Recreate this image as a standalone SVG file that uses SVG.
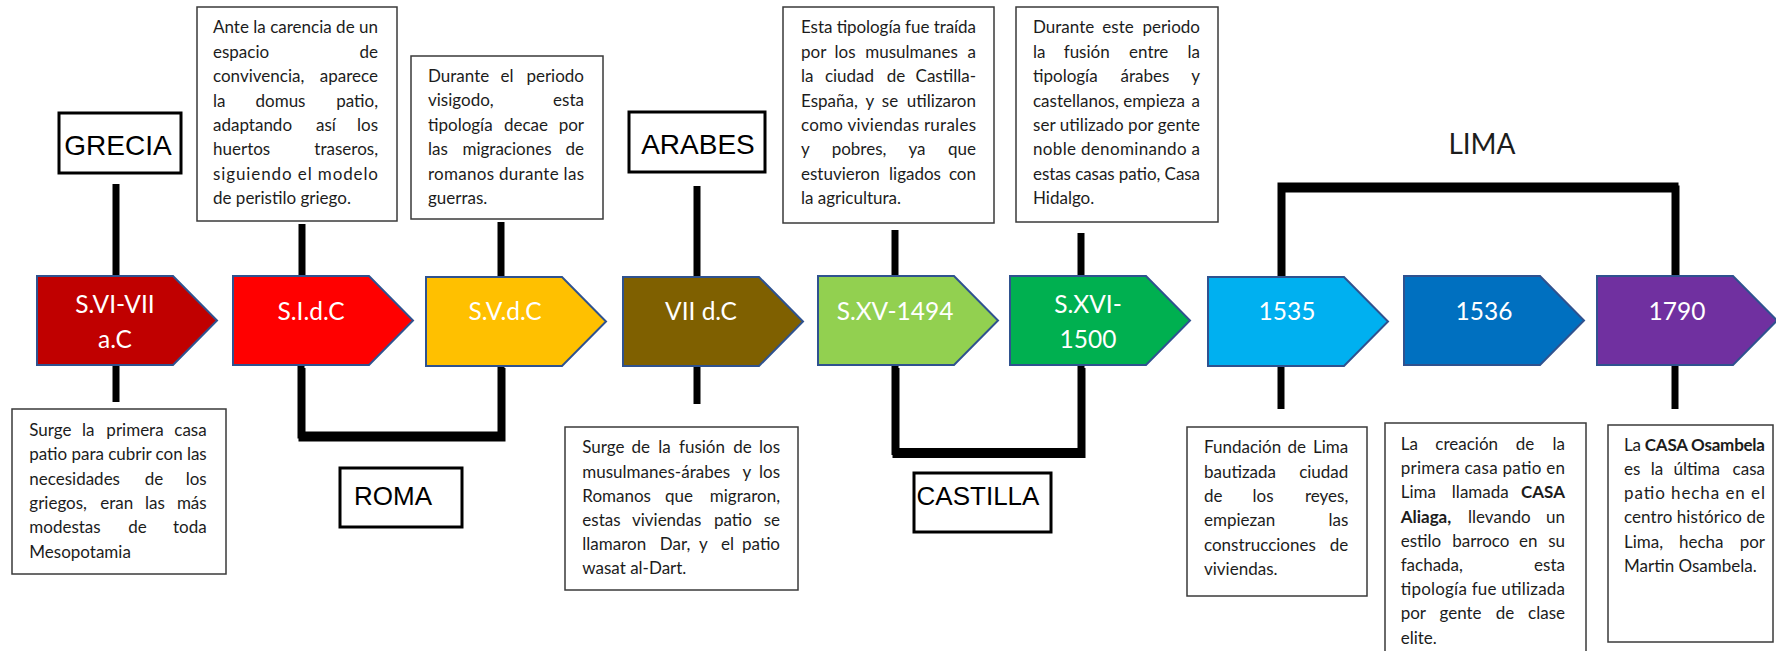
<svg xmlns="http://www.w3.org/2000/svg" width="1776" height="651" viewBox="0 0 1776 651">
<style>
.bg{fill:#fff}
.box{fill:#fff;stroke:#3a3a3a;stroke-width:1.5}
.lbox{fill:#fff;stroke:#000;stroke-width:3}
.t{font-family:Lato,"Open Sans",sans-serif;font-size:17px;fill:#1c1c1c}
.b{font-weight:bold}
.s{text-anchor:start}
.m{text-anchor:middle}
.e{text-anchor:end}
.lt{font-family:"Liberation Sans",Arial,sans-serif;fill:#000;text-anchor:middle}
.arr{stroke:#2F528F;stroke-width:2}
.at{font-family:Lato,"Open Sans",sans-serif;font-size:24.5px;fill:#fff;text-anchor:middle}
.c{stroke:#000;stroke-width:7;fill:none}
</style>
<rect class="bg" x="0" y="0" width="1776" height="651"/>

<g id="connectors">
<line class="c" x1="116" y1="184" x2="116" y2="276"/>
<line class="c" x1="302" y1="224" x2="302" y2="276"/>
<line class="c" x1="501" y1="222" x2="501" y2="276"/>
<line class="c" x1="697" y1="186" x2="697" y2="276"/>
<line class="c" x1="895" y1="230" x2="895" y2="276"/>
<line class="c" x1="1081" y1="233" x2="1081" y2="276"/>
<line class="c" x1="116" y1="365" x2="116" y2="402"/>
<line class="c" x1="697" y1="366" x2="697" y2="404"/>
<line class="c" x1="1281" y1="366" x2="1281" y2="409"/>
<line class="c" x1="1675" y1="366" x2="1675" y2="409"/>
<path class="c" d="M302,368 V438 H502 V368"/>
<path class="c" d="M301,365 V435 H501 V365"/>
<path class="c" d="M896,368 V454.5 H1082 V368"/>
<path class="c" d="M895,365 V451.5 H1081 V365"/>
<path class="c" d="M1282,276 V189 H1676 V276"/>
<path class="c" d="M1281,276 V186 H1675 V276"/>
</g>

<g id="grecia">
<rect class="lbox" x="59" y="113" width="122" height="60"/>
<text class="lt" x="118" y="155" font-size="28">GRECIA</text>
</g>
<g id="arabes">
<rect class="lbox" x="629" y="112" width="136" height="60"/>
<text class="lt" x="698" y="154" font-size="28">ARABES</text>
</g>
<g id="roma">
<rect class="lbox" x="340" y="468" width="122" height="59"/>
<text class="lt" x="393" y="505" font-size="26">ROMA</text>
</g>
<g id="castilla">
<rect class="lbox" x="914" y="473" width="137" height="59"/>
<text class="lt" x="978" y="505" font-size="26">CASTILLA</text>
</g>
<g id="lima">
<text x="1482" y="154" font-family="Lato,'Open Sans',sans-serif" font-size="28" fill="#1c1c1c" text-anchor="middle">LIMA</text>
</g>

<g id="a1"><polygon class="arr" fill="#C00000" points="37,276 173,276 217,320.5 173,365 37,365"/>
<text class="at" x="115" y="312.5">S.VI-VII</text><text class="at" x="115" y="348">a.C</text></g>
<g id="a2"><polygon class="arr" fill="#FF0000" points="233,276 369,276 413,320.5 369,365 233,365"/>
<text class="at" x="311" y="320">S.I.d.C</text></g>
<g id="a3"><polygon class="arr" fill="#FFC000" points="426,277 562,277 606,321.5 562,366 426,366"/>
<text class="at" x="505" y="320">S.V.d.C</text></g>
<g id="a4"><polygon class="arr" fill="#7F6000" points="623,277 759,277 803,321.5 759,366 623,366"/>
<text class="at" x="701" y="320">VII d.C</text></g>
<g id="a5"><polygon class="arr" fill="#92D050" points="818,276 954,276 998,320.5 954,365 818,365"/>
<text class="at" x="895" y="320">S.XV-1494</text></g>
<g id="a6"><polygon class="arr" fill="#00B050" points="1010,276 1146,276 1190,320.5 1146,365 1010,365"/>
<text class="at" x="1088" y="312.5">S.XVI-</text><text class="at" x="1088" y="348">1500</text></g>
<g id="a7"><polygon class="arr" fill="#00B0F0" points="1208,277 1344,277 1388,321.5 1344,366 1208,366"/>
<text class="at" x="1287" y="320">1535</text></g>
<g id="a8"><polygon class="arr" fill="#0070C0" points="1404,276 1540,276 1584,320.5 1540,365 1404,365"/>
<text class="at" x="1484" y="320">1536</text></g>
<g id="a9"><polygon class="arr" fill="#7030A0" points="1597,276 1733,276 1777,320.5 1733,365 1597,365"/>
<text class="at" x="1677" y="320">1790</text></g>

<g id="box-ante">
<rect class="box" x="197" y="7" width="200" height="214"/>
<text class="t" x="213" y="33.3" textLength="165" lengthAdjust="spacing">Ante la carencia de un</text>
<text class="t" y="57.7"><tspan class="s" x="213">espacio</tspan><tspan class="e" x="378">de</tspan></text>
<text class="t" y="82.1"><tspan class="s" x="213">convivencia,</tspan><tspan class="e" x="378">aparece</tspan></text>
<text class="t" y="106.5"><tspan class="s" x="213">la</tspan><tspan class="m" x="280.5">domus</tspan><tspan class="e" x="378">patio,</tspan></text>
<text class="t" y="130.9"><tspan class="s" x="213">adaptando</tspan><tspan class="m" x="326">así</tspan><tspan class="e" x="378">los</tspan></text>
<text class="t" y="155.3"><tspan class="s" x="213">huertos</tspan><tspan class="e" x="378">traseros,</tspan></text>
<text class="t" x="213" y="179.7" textLength="165" lengthAdjust="spacing">siguiendo el modelo</text>
<text class="t" x="213" y="204.1">de peristilo griego.</text>
</g>

<g id="box-visigodo">
<rect class="box" x="411" y="56" width="192" height="163"/>
<text class="t" y="82"><tspan class="s" x="428">Durante</tspan><tspan class="m" x="507">el</tspan><tspan class="e" x="584">periodo</tspan></text>
<text class="t" y="106.4"><tspan class="s" x="428">visigodo,</tspan><tspan class="e" x="584">esta</tspan></text>
<text class="t" y="130.8"><tspan class="s" x="428">tipología</tspan><tspan class="m" x="526">decae</tspan><tspan class="e" x="584">por</tspan></text>
<text class="t" y="155.2"><tspan class="s" x="428">las</tspan><tspan class="m" x="507">migraciones</tspan><tspan class="e" x="584">de</tspan></text>
<text class="t" x="428" y="179.6" textLength="156" lengthAdjust="spacing">romanos durante las</text>
<text class="t" x="428" y="204">guerras.</text>
</g>

<g id="box-esta">
<rect class="box" x="783" y="7" width="211" height="216"/>
<text class="t" x="801" y="33.3" textLength="175" lengthAdjust="spacing">Esta tipología fue traída</text>
<text class="t" y="57.7"><tspan class="s" x="801">por</tspan><tspan class="m" x="845">los</tspan><tspan class="m" x="911.5">musulmanes</tspan><tspan class="e" x="976">a</tspan></text>
<text class="t" y="82.1"><tspan class="s" x="801">la</tspan><tspan class="m" x="849.5">ciudad</tspan><tspan class="m" x="896">de</tspan><tspan class="e" x="976">Castilla-</tspan></text>
<text class="t" y="106.5"><tspan class="s" x="801">España,</tspan><tspan class="m" x="870">y</tspan><tspan class="m" x="890">se</tspan><tspan class="e" x="976">utilizaron</tspan></text>
<text class="t" x="801" y="130.9" textLength="175" lengthAdjust="spacing">como viviendas rurales</text>
<text class="t" y="155.3"><tspan class="s" x="801">y</tspan><tspan class="m" x="859">pobres,</tspan><tspan class="m" x="917">ya</tspan><tspan class="e" x="976">que</tspan></text>
<text class="t" y="179.7"><tspan class="s" x="801">estuvieron</tspan><tspan class="m" x="915">ligados</tspan><tspan class="e" x="976">con</tspan></text>
<text class="t" x="801" y="204.1">la agricultura.</text>
</g>

<g id="box-durante">
<rect class="box" x="1016" y="7" width="202" height="215"/>
<text class="t" y="33.3"><tspan class="s" x="1033">Durante</tspan><tspan class="m" x="1118">este</tspan><tspan class="e" x="1200">periodo</tspan></text>
<text class="t" y="57.7"><tspan class="s" x="1033">la</tspan><tspan class="m" x="1086.7">fusión</tspan><tspan class="m" x="1148.7">entre</tspan><tspan class="e" x="1200">la</tspan></text>
<text class="t" y="82.1"><tspan class="s" x="1033">tipología</tspan><tspan class="m" x="1145">árabes</tspan><tspan class="e" x="1200">y</tspan></text>
<text class="t" y="106.5"><tspan class="s" x="1033">castellanos,</tspan><tspan class="m" x="1154">empieza</tspan><tspan class="e" x="1200">a</tspan></text>
<text class="t" x="1033" y="130.9" textLength="167" lengthAdjust="spacing">ser utilizado por gente</text>
<text class="t" x="1033" y="155.3" textLength="167" lengthAdjust="spacing">noble denominando a</text>
<text class="t" x="1033" y="179.7" textLength="167" lengthAdjust="spacing">estas casas patio, Casa</text>
<text class="t" x="1033" y="204.1">Hidalgo.</text>
</g>

<g id="box-surge">
<rect class="box" x="12" y="409" width="214" height="165"/>
<text class="t" y="436"><tspan class="s" x="29.3">Surge</tspan><tspan class="m" x="88.3">la</tspan><tspan class="m" x="135">primera</tspan><tspan class="e" x="206.7">casa</tspan></text>
<text class="t" x="29.3" y="460.3" textLength="177.4" lengthAdjust="spacing">patio para cubrir con las</text>
<text class="t" y="484.6"><tspan class="s" x="29.3">necesidades</tspan><tspan class="m" x="154">de</tspan><tspan class="e" x="206.7">los</tspan></text>
<text class="t" y="508.9"><tspan class="s" x="29.3">griegos,</tspan><tspan class="m" x="116.7">eran</tspan><tspan class="m" x="155">las</tspan><tspan class="e" x="206.7">más</tspan></text>
<text class="t" y="533.2"><tspan class="s" x="29.3">modestas</tspan><tspan class="m" x="137.5">de</tspan><tspan class="e" x="206.7">toda</tspan></text>
<text class="t" x="29.3" y="557.5">Mesopotamia</text>
</g>

<g id="box-fusion">
<rect class="box" x="565" y="427" width="233" height="163"/>
<text class="t" y="453.3"><tspan class="s" x="582.3">Surge</tspan><tspan class="m" x="640.8">de</tspan><tspan class="m" x="664.5">la</tspan><tspan class="m" x="702">fusión</tspan><tspan class="m" x="742.5">de</tspan><tspan class="e" x="780">los</tspan></text>
<text class="t" y="477.5"><tspan class="s" x="582.3">musulmanes-árabes</tspan><tspan class="m" x="747">y</tspan><tspan class="e" x="780">los</tspan></text>
<text class="t" y="501.7"><tspan class="s" x="582.3">Romanos</tspan><tspan class="m" x="679">que</tspan><tspan class="e" x="780">migraron,</tspan></text>
<text class="t" y="525.9"><tspan class="s" x="582.3">estas</tspan><tspan class="m" x="666.7">viviendas</tspan><tspan class="m" x="733">patio</tspan><tspan class="e" x="780">se</tspan></text>
<text class="t" y="550.1"><tspan class="s" x="582.3">llamaron</tspan><tspan class="m" x="675">Dar,</tspan><tspan class="m" x="703.5">y</tspan><tspan class="m" x="727.5">el</tspan><tspan class="e" x="780">patio</tspan></text>
<text class="t" x="582.3" y="574.3">wasat al-Dart.</text>
</g>

<g id="box-fundacion">
<rect class="box" x="1187" y="427" width="180" height="169"/>
<text class="t" y="453.3"><tspan class="s" x="1204">Fundación</tspan><tspan class="m" x="1296.7">de</tspan><tspan class="e" x="1348.3">Lima</tspan></text>
<text class="t" y="477.7"><tspan class="s" x="1204">bautizada</tspan><tspan class="e" x="1348.3">ciudad</tspan></text>
<text class="t" y="502"><tspan class="s" x="1204">de</tspan><tspan class="m" x="1263">los</tspan><tspan class="e" x="1348.3">reyes,</tspan></text>
<text class="t" y="526.3"><tspan class="s" x="1204">empiezan</tspan><tspan class="e" x="1348.3">las</tspan></text>
<text class="t" y="550.6"><tspan class="s" x="1204">construcciones</tspan><tspan class="e" x="1348.3">de</tspan></text>
<text class="t" x="1204" y="574.6">viviendas.</text>
</g>

<g id="box-creacion">
<rect class="box" x="1385" y="423" width="201" height="240"/>
<text class="t" y="450"><tspan class="s" x="1400.7">La</tspan><tspan class="m" x="1466.7">creación</tspan><tspan class="m" x="1525">de</tspan><tspan class="e" x="1565">la</tspan></text>
<text class="t" x="1400.7" y="474.2" textLength="164.3" lengthAdjust="spacing">primera casa patio en</text>
<text class="t" y="498.4"><tspan class="s" x="1400.7">Lima</tspan><tspan class="m" x="1480.3">llamada</tspan><tspan class="e b" x="1565">CASA</tspan></text>
<text class="t" y="522.6"><tspan class="s b" x="1400.7">Aliaga,</tspan><tspan class="m" x="1499.3">llevando</tspan><tspan class="e" x="1565">un</tspan></text>
<text class="t" y="546.8"><tspan class="s" x="1400.7">estilo</tspan><tspan class="m" x="1480.8">barroco</tspan><tspan class="m" x="1528.3">en</tspan><tspan class="e" x="1565">su</tspan></text>
<text class="t" y="571"><tspan class="s" x="1400.7">fachada,</tspan><tspan class="e" x="1565">esta</tspan></text>
<text class="t" x="1400.7" y="595.2" textLength="164.3" lengthAdjust="spacing">tipología fue utilizada</text>
<text class="t" y="619.4"><tspan class="s" x="1400.7">por</tspan><tspan class="m" x="1460.5">gente</tspan><tspan class="m" x="1505">de</tspan><tspan class="e" x="1565">clase</tspan></text>
<text class="t" x="1400.7" y="643.6">elite.</text>
</g>

<g id="box-osambela">
<rect class="box" x="1608" y="425" width="165" height="217"/>
<text class="t" x="1624" y="450.7" textLength="141" lengthAdjust="spacing">La <tspan class="b">CASA Osambela</tspan></text>
<text class="t" y="475"><tspan class="s" x="1624">es</tspan><tspan class="m" x="1657">la</tspan><tspan class="m" x="1696.7">última</tspan><tspan class="e" x="1765">casa</tspan></text>
<text class="t" x="1624" y="499.2" textLength="141" lengthAdjust="spacing">patio hecha en el</text>
<text class="t" x="1624" y="523.4" textLength="141" lengthAdjust="spacing">centro histórico de</text>
<text class="t" y="547.6"><tspan class="s" x="1624">Lima,</tspan><tspan class="m" x="1701.3">hecha</tspan><tspan class="e" x="1765">por</tspan></text>
<text class="t" x="1624" y="571.8">Martin Osambela.</text>
</g>
</svg>
